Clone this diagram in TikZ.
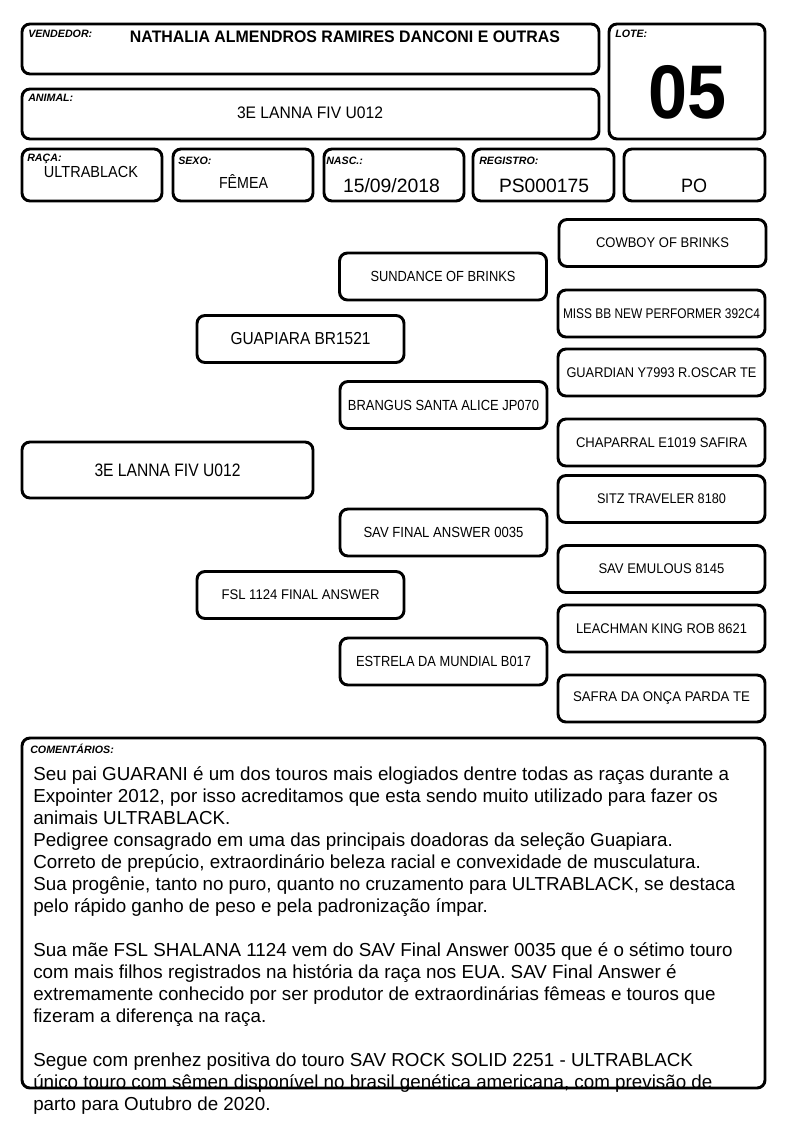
\documentclass[tikz,border=0pt]{standalone}
\usepackage{fontspec}
\setmainfont{Liberation Sans}
\newlength\pxu \setlength\pxu{0.75pt}
\newcommand\fw[2]{\resizebox{#1\pxu}{\height}{#2}}
\tikzset{
  bx/.style={draw, line width=2.2pt, rounded corners=6pt, inner sep=0pt, rectangle},
  pb/.style={bx, minimum width=207\pxu, minimum height=47\pxu},
  lab/.style={anchor=base west, inner sep=0pt, font=\fontsize{8}{9.6}\selectfont\bfseries\itshape},
  valtxt/.style={anchor=base, inner sep=0pt},
  rtxt/.style={font=\fontsize{10.5}{12}\selectfont},
  mtxt/.style={font=\fontsize{11}{13}\selectfont},
  comtxt/.style={anchor=base west, inner sep=0pt, font=\fontsize{14.1}{16.5}\selectfont},
}
\begin{document}
\begin{tikzpicture}[x=0.75pt, y=-0.75pt]
\useasboundingbox (0,0) rectangle (794,1123);
\fill[white] (0,0) rectangle (794,1123);
% header boxes
\node[bx, minimum width=577\pxu, minimum height=50\pxu] (vend) at (310.5,49) {};
\node[bx, minimum width=156\pxu, minimum height=115\pxu] (lote) at (687,81.5) {};
\node[bx, minimum width=577\pxu, minimum height=50\pxu] (animal) at (310.5,114) {};
\node[bx, minimum width=140\pxu, minimum height=52\pxu] (raca) at (92,175) {};
\node[bx, minimum width=140\pxu, minimum height=52\pxu] (sexo) at (243,175) {};
\node[bx, minimum width=140\pxu, minimum height=52\pxu] (nasc) at (394,175) {};
\node[bx, minimum width=141\pxu, minimum height=52\pxu] (reg) at (543.5,175) {};
\node[bx, minimum width=141\pxu, minimum height=52\pxu] (po) at (694.5,175) {};
% header labels
\node[lab] (lvend) at (28,38) {VENDEDOR:};
\node[lab] (llote) at (615,38) {LOTE:};
\node[lab] (lanimal) at (28,102) {ANIMAL:};
\node[lab] (lraca) at (27,162) {RAÇA:};
\node[lab] (lsexo) at (178,165) {SEXO:};
\node[lab] (lnasc) at (326,165) {NASC.:};
\node[lab] (lreg) at (479,165) {REGISTRO:};
% header values
\node[valtxt, font=\fontsize{12.5}{14}\selectfont\bfseries] (tvend) at (345,43) {\fw{430}{NATHALIA ALMENDROS RAMIRES DANCONI E OUTRAS}};
\node[valtxt, font=\fontsize{57}{62}\selectfont\bfseries] (tlote) at (687,119) {\fw{78}{05}};
\node[valtxt, font=\fontsize{12.5}{14}\selectfont] (tanimal) at (310,119) {\fw{146}{3E LANNA FIV U012}};
\node[valtxt, font=\fontsize{12}{14}\selectfont] (traca) at (91,178) {\fw{94}{ULTRABLACK}};
\node[valtxt, font=\fontsize{12}{14}\selectfont] (tsexo) at (243.5,189) {\fw{49}{FÊMEA}};
\node[valtxt, font=\fontsize{14.5}{16}\selectfont] (tnasc) at (391.5,193) {\fw{97}{15/09/2018}};
\node[valtxt, font=\fontsize{14.5}{16}\selectfont] (treg) at (544,193) {\fw{90}{PS000175}};
\node[valtxt, font=\fontsize{14.5}{16}\selectfont] (tpo) at (694,193) {\fw{26}{PO}};
% pedigree
\node[pb, rtxt] (cowboy) at (662.5,243) {\fw{133}{COWBOY OF BRINKS}};
\node[pb, mtxt] (sundance) at (443,276.5) {\fw{145}{SUNDANCE OF BRINKS}};
\node[pb, rtxt] (miss) at (661.5,313.5) {\fw{197}{MISS BB NEW PERFORMER 392C4}};
\node[pb, font=\fontsize{13}{15}\selectfont] (guapiara) at (300.5,339) {\fw{140}{GUAPIARA BR1521}};
\node[pb, rtxt] (guardian) at (661.5,372.5) {\fw{190}{GUARDIAN Y7993 R.OSCAR TE}};
\node[pb, mtxt] (brangus) at (443.5,405) {\fw{191}{BRANGUS SANTA ALICE JP070}};
\node[pb, rtxt] (chaparral) at (661.5,442.5) {\fw{171}{CHAPARRAL E1019 SAFIRA}};
\node[bx, minimum width=291\pxu, minimum height=56\pxu, font=\fontsize{13.5}{15}\selectfont] (lanna) at (167.5,470) {\fw{146}{3E LANNA FIV U012}};
\node[pb, rtxt] (sitz) at (661.5,499) {\fw{129}{SITZ TRAVELER 8180}};
\node[pb, mtxt] (savfinal) at (443.5,532.5) {\fw{160}{SAV FINAL ANSWER 0035}};
\node[pb, rtxt] (emulous) at (661.5,569) {\fw{126}{SAV EMULOUS 8145}};
\node[pb, rtxt] (fsl) at (300.5,595) {\fw{158}{FSL 1124 FINAL ANSWER}};
\node[pb, rtxt] (leachman) at (661.5,628.5) {\fw{171}{LEACHMAN KING ROB 8621}};
\node[pb, mtxt] (estrela) at (443.5,661.5) {\fw{175}{ESTRELA DA MUNDIAL B017}};
\node[pb, rtxt] (safra) at (661.5,698.5) {\fw{177}{SAFRA DA ONÇA PARDA TE}};
% comments
\node[bx, minimum width=743\pxu, minimum height=350\pxu] (com) at (393.5,913) {};
\node[lab] (lcom) at (30,753) {COMENTÁRIOS:};
\node[comtxt] (c1) at (33,780) {Seu pai GUARANI é um dos touros mais elogiados dentre todas as raças durante a};
\node[comtxt] (c2) at (33,802) {Expointer 2012, por isso acreditamos que esta sendo muito utilizado para fazer os};
\node[comtxt] (c3) at (33,824) {animais ULTRABLACK.};
\node[comtxt] (c4) at (33,846) {Pedigree consagrado em uma das principais doadoras da seleção Guapiara.};
\node[comtxt] (c5) at (33,868) {Correto de prepúcio, extraordinário beleza racial e convexidade de musculatura.};
\node[comtxt] (c6) at (33,890) {Sua progênie, tanto no puro, quanto no cruzamento para ULTRABLACK, se destaca};
\node[comtxt] (c7) at (33,912) {pelo rápido ganho de peso e pela padronização ímpar.};
\node[comtxt] (c8) at (33,956) {Sua mãe FSL SHALANA 1124 vem do SAV Final Answer 0035 que é o sétimo touro};
\node[comtxt] (c9) at (33,978) {com mais filhos registrados na história da raça nos EUA. SAV Final Answer é};
\node[comtxt] (c10) at (33,1000) {extremamente conhecido por ser produtor de extraordinárias fêmeas e touros que};
\node[comtxt] (c11) at (33,1022) {fizeram a diferença na raça.};
\node[comtxt] (c12) at (33,1066) {Segue com prenhez positiva do touro SAV ROCK SOLID 2251 - ULTRABLACK};
\node[comtxt] (c13) at (33,1088) {único touro com sêmen disponível no brasil genética americana, com previsão de};
\node[comtxt] (c14) at (33,1110) {parto para Outubro de 2020.};
\end{tikzpicture}
\end{document}
